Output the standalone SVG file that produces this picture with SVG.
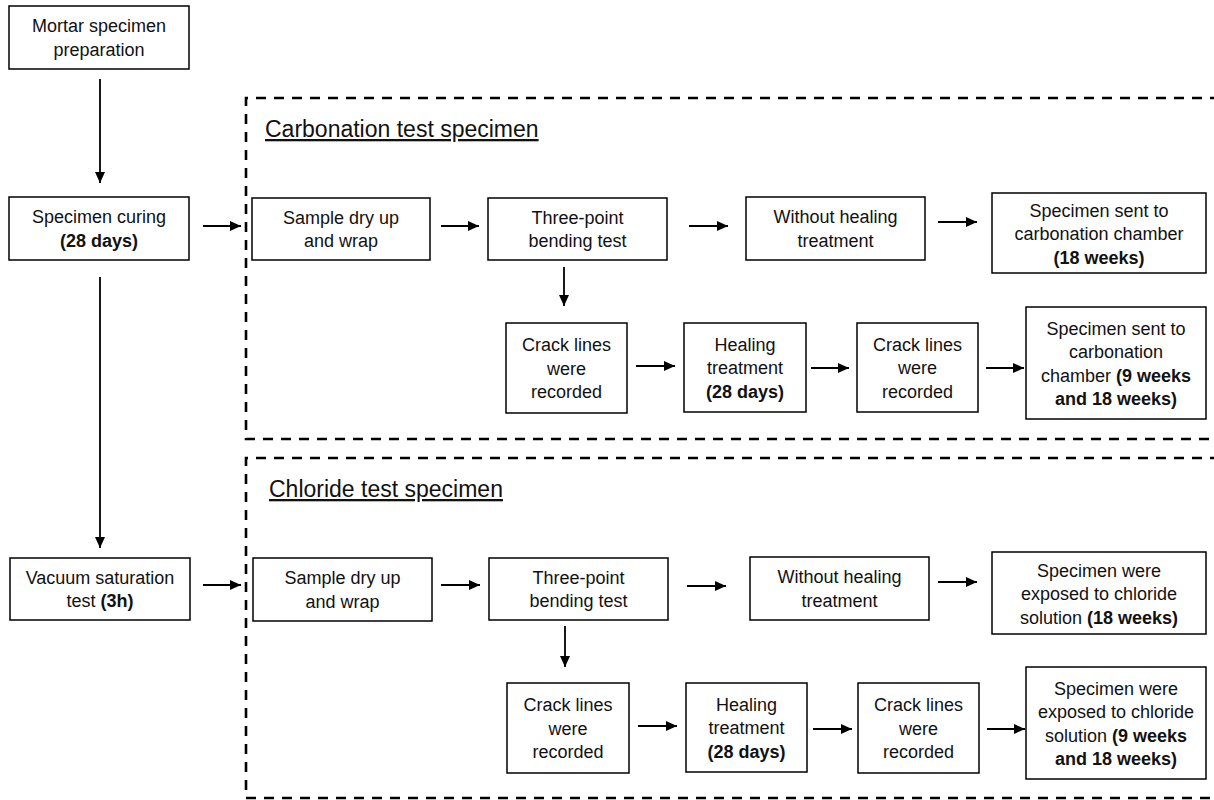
<svg xmlns="http://www.w3.org/2000/svg" width="1214" height="800" viewBox="0 0 1214 800">
<style>
.box{fill:#fff;stroke:#000;stroke-width:1.5}
.t{font-family:"Liberation Sans",Arial,sans-serif;font-size:18px;fill:#111;text-anchor:middle}
.b{font-weight:bold}
.title{font-family:"Liberation Sans",Arial,sans-serif;font-size:23px;fill:#111;text-decoration:underline}
.dash{fill:none;stroke:#000;stroke-width:2.6;stroke-dasharray:10 8}
.arr{fill:none;stroke:#000;stroke-width:1.8;marker-end:url(#ah)}
</style>
<defs>
<marker id="ah" markerUnits="userSpaceOnUse" markerWidth="12" markerHeight="11" refX="11" refY="5" orient="auto">
<path d="M0,0 L11,5 L0,10 z" fill="#000"/>
</marker>
</defs>
<rect width="1214" height="800" fill="#fff"/>
<g id="groups">
<path class="dash" d="M1220,98 H246 V439 H1220"/>
<path class="dash" d="M1220,458 H246 V798 H1220"/>
<text class="title" x="265" y="137">Carbonation test specimen</text>
<text class="title" x="269" y="497">Chloride test specimen</text>
</g>
<g id="connectors">
<line class="arr" x1="100" y1="79" x2="100" y2="183"/>
<line class="arr" x1="100" y1="277" x2="100" y2="548"/>
<line class="arr" x1="203" y1="226" x2="241" y2="226"/>
<line class="arr" x1="441" y1="226" x2="479" y2="226"/>
<line class="arr" x1="689" y1="226" x2="728" y2="226"/>
<line class="arr" x1="938" y1="222" x2="977" y2="222"/>
<line class="arr" x1="564" y1="267" x2="564" y2="306"/>
<line class="arr" x1="636" y1="366" x2="675" y2="366"/>
<line class="arr" x1="811" y1="368" x2="849" y2="368"/>
<line class="arr" x1="986" y1="368" x2="1024" y2="368"/>
<line class="arr" x1="203" y1="585" x2="241" y2="585"/>
<line class="arr" x1="441" y1="585" x2="480" y2="585"/>
<line class="arr" x1="687" y1="586" x2="726" y2="586"/>
<line class="arr" x1="938" y1="582" x2="977" y2="582"/>
<line class="arr" x1="565" y1="626" x2="565" y2="667"/>
<line class="arr" x1="638" y1="726" x2="677" y2="726"/>
<line class="arr" x1="813" y1="729" x2="852" y2="729"/>
<line class="arr" x1="987" y1="729" x2="1025" y2="729"/>
</g>
<g id="mortar">
<rect class="box" x="9" y="6" width="180" height="63"/>
<text class="t" x="99" y="32">Mortar specimen</text>
<text class="t" x="99" y="55.5">preparation</text>
</g>
<g id="curing">
<rect class="box" x="9" y="197" width="180" height="63"/>
<text class="t" x="99" y="223">Specimen curing</text>
<text class="t b" x="99" y="246.5">(28 days)</text>
</g>
<g id="vacuum">
<rect class="box" x="10" y="558" width="180" height="62"/>
<text class="t" x="100" y="583.5">Vacuum saturation</text>
<text class="t" x="100" y="607">test <tspan class="b">(3h)</tspan></text>
</g>
<g id="c_dry">
<rect class="box" x="252" y="198" width="178" height="62"/>
<text class="t" x="341" y="223.5">Sample dry up</text>
<text class="t" x="341" y="247">and wrap</text>
</g>
<g id="c_bend">
<rect class="box" x="488" y="198" width="179" height="62"/>
<text class="t" x="577.5" y="223.5">Three-point</text>
<text class="t" x="577.5" y="247">bending test</text>
</g>
<g id="c_without">
<rect class="box" x="746" y="197" width="179" height="63"/>
<text class="t" x="835.5" y="223">Without healing</text>
<text class="t" x="835.5" y="246.5">treatment</text>
</g>
<g id="c_sent18">
<rect class="box" x="992" y="193" width="214" height="80"/>
<text class="t" x="1099" y="216.5">Specimen sent to</text>
<text class="t" x="1099" y="240">carbonation chamber</text>
<text class="t b" x="1099" y="263.5">(18 weeks)</text>
</g>
<g id="c_crack1">
<rect class="box" x="506" y="323" width="121" height="90"/>
<text class="t" x="566.5" y="351">Crack lines</text>
<text class="t" x="566.5" y="374.5">were</text>
<text class="t" x="566.5" y="398">recorded</text>
</g>
<g id="c_heal">
<rect class="box" x="684" y="323" width="122" height="89"/>
<text class="t" x="745" y="350.5">Healing</text>
<text class="t" x="745" y="374">treatment</text>
<text class="t b" x="745" y="397.5">(28 days)</text>
</g>
<g id="c_crack2">
<rect class="box" x="857" y="323" width="121" height="89"/>
<text class="t" x="917.5" y="350.5">Crack lines</text>
<text class="t" x="917.5" y="374">were</text>
<text class="t" x="917.5" y="397.5">recorded</text>
</g>
<g id="c_sent9">
<rect class="box" x="1026" y="307" width="180" height="112"/>
<text class="t" x="1116" y="334.5">Specimen sent to</text>
<text class="t" x="1116" y="358">carbonation</text>
<text class="t" x="1116" y="381.5">chamber <tspan class="b">(9 weeks</tspan></text>
<text class="t b" x="1116" y="405">and 18 weeks)</text>
</g>
<g id="l_dry">
<rect class="box" x="253" y="558" width="179" height="63"/>
<text class="t" x="342.5" y="584">Sample dry up</text>
<text class="t" x="342.5" y="607.5">and wrap</text>
</g>
<g id="l_bend">
<rect class="box" x="489" y="558" width="179" height="62"/>
<text class="t" x="578.5" y="583.5">Three-point</text>
<text class="t" x="578.5" y="607">bending test</text>
</g>
<g id="l_without">
<rect class="box" x="750" y="557" width="179" height="63"/>
<text class="t" x="839.5" y="583">Without healing</text>
<text class="t" x="839.5" y="606.5">treatment</text>
</g>
<g id="l_exp18">
<rect class="box" x="992" y="552" width="214" height="82"/>
<text class="t" x="1099" y="576.5">Specimen were</text>
<text class="t" x="1099" y="600">exposed to chloride</text>
<text class="t" x="1099" y="623.5">solution <tspan class="b">(18 weeks)</tspan></text>
</g>
<g id="l_crack1">
<rect class="box" x="507" y="683" width="122" height="90"/>
<text class="t" x="568" y="711">Crack lines</text>
<text class="t" x="568" y="734.5">were</text>
<text class="t" x="568" y="758">recorded</text>
</g>
<g id="l_heal">
<rect class="box" x="686" y="683" width="121" height="89"/>
<text class="t" x="746.5" y="710.5">Healing</text>
<text class="t" x="746.5" y="734">treatment</text>
<text class="t b" x="746.5" y="757.5">(28 days)</text>
</g>
<g id="l_crack2">
<rect class="box" x="858" y="683" width="121" height="90"/>
<text class="t" x="918.5" y="711">Crack lines</text>
<text class="t" x="918.5" y="734.5">were</text>
<text class="t" x="918.5" y="758">recorded</text>
</g>
<g id="l_exp9">
<rect class="box" x="1026" y="667" width="180" height="112"/>
<text class="t" x="1116" y="694.5">Specimen were</text>
<text class="t" x="1116" y="718">exposed to chloride</text>
<text class="t" x="1116" y="741.5">solution <tspan class="b">(9 weeks</tspan></text>
<text class="t b" x="1116" y="765">and 18 weeks)</text>
</g>
</svg>
